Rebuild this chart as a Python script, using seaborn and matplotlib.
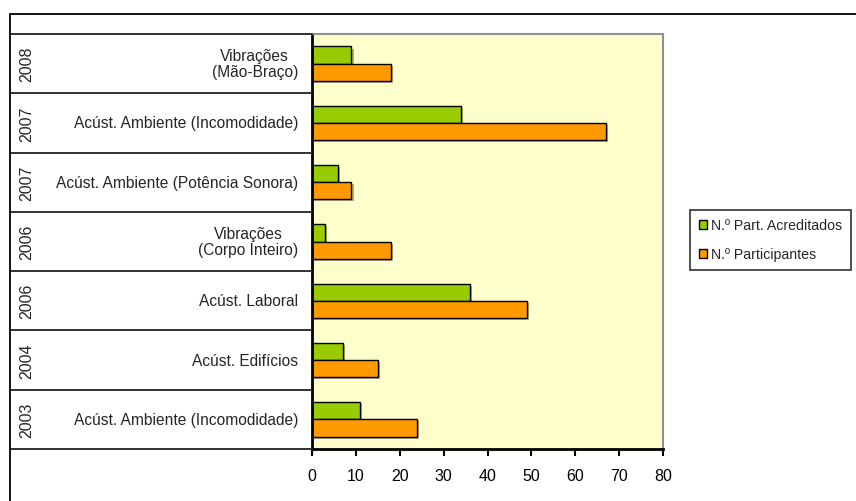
import matplotlib
matplotlib.use("Agg")
import matplotlib.pyplot as plt
import matplotlib.patheffects as pe
from matplotlib.lines import Line2D
from matplotlib.patches import Patch
from matplotlib.transforms import blended_transform_factory
import numpy as np
import pandas as pd
import seaborn as sns

# Proficiency tests, top to bottom
years = ["2008", "2007", "2007", "2006", "2006", "2004", "2003"]
names = [
    "Vibrações\n(Mão-Braço)",
    "Acúst. Ambiente (Incomodidade)",
    "Acúst. Ambiente (Potência Sonora)",
    "Vibrações\n(Corpo Inteiro)",
    "Acúst. Laboral",
    "Acúst. Edifícios",
    "Acúst. Ambiente (Incomodidade)",
]
acreditados = [9, 34, 6, 3, 36, 7, 11]
participantes = [18, 67, 9, 18, 49, 15, 24]
series = ["N.º Part. Acreditados", "N.º Participantes"]
colors = ["#99CC00", "#FF9900"]
xticks = [0, 10, 20, 30, 40, 50, 60, 70, 80]

keys = [f"{y} {n}" for y, n in zip(years, names)]
df = pd.DataFrame({
    "ensaio": keys * 2,
    "serie": [series[0]] * len(keys) + [series[1]] * len(keys),
    "valor": acreditados + participantes,
})

sns.set_theme(style="white")
plt.rcParams["font.family"] = ["Liberation Sans", "DejaVu Sans"]

W, H = 856, 502
fig = plt.figure(figsize=(W / 100, H / 100), dpi=100)
ax = fig.add_axes([312 / W, 1 - 450 / H, (663 - 312) / W, (450 - 35) / H])
ax.set_facecolor("#FFFFCC")

sns.barplot(data=df, y="ensaio", x="valor", hue="serie", order=keys,
            hue_order=series, palette=colors, orient="h", width=0.58,
            edgecolor="black", linewidth=1.0, saturation=1, legend=False, ax=ax)
for bar in ax.patches:
    bar.set_path_effects([pe.SimplePatchShadow(offset=(1.5, -1.5), shadow_rgbFace="#777777", alpha=0.6),
                          pe.Normal()])

ax.set_xlim(0, 80)
ax.set_ylim(len(keys) - 0.5, -0.5)
ax.set_xticks(xticks)
ax.set_xticklabels([str(t) for t in xticks])
ax.set_yticks([])
ax.set_xlabel("")
ax.set_ylabel("")
ax.tick_params(axis="x", direction="out", length=5, width=1.5, color="black", pad=9,
               bottom=True, labelsize=11.5, labelcolor="black")

for side in ["top", "right"]:
    ax.spines[side].set_color("#909090")
    ax.spines[side].set_linewidth(1.5)
for side in ["left", "bottom"]:
    ax.spines[side].set_color("black")
    ax.spines[side].set_linewidth(2)

# Category table on the left: rows separated by lines, year rotated, name right-aligned
tr = blended_transform_factory(fig.transFigure, ax.transData)
for b in np.arange(-0.5, len(keys), 1.0):
    fig.add_artist(Line2D([10 / W, 312 / W], [b, b], transform=tr, color="#222222", lw=1.3))
for i, (y, n) in enumerate(zip(years, names)):
    fig.text(27 / W, i, y, transform=tr, rotation=90, ha="center", va="center", fontsize=11.5)
    fig.text(298 / W, i, n, transform=tr, ha="right", va="center", fontsize=11.2,
             multialignment="center", linespacing=1.1)

# Outer chart frame
fig.add_artist(Line2D([10 / W, 10 / W], [0, 1 - 15 / H], transform=fig.transFigure, color="black", lw=1.3))
fig.add_artist(Line2D([10 / W, 1], [1 - 15 / H, 1 - 15 / H], transform=fig.transFigure, color="black", lw=1.3))

handles = [Patch(facecolor=c, edgecolor="black", linewidth=1.0, label=s) for c, s in zip(colors, series)]
leg = fig.legend(handles=handles, loc="upper left", bbox_to_anchor=(690 / W, 1 - 211 / H),
                 bbox_transform=fig.transFigure, fontsize=10.2, frameon=True, fancybox=False,
                 handlelength=0.6, handleheight=0.6, handletextpad=0.3, labelspacing=1.05,
                 borderpad=0.6, borderaxespad=0)
leg.get_frame().set_edgecolor("black")
leg.get_frame().set_linewidth(1.2)

fig.savefig("out.png", dpi=100)
